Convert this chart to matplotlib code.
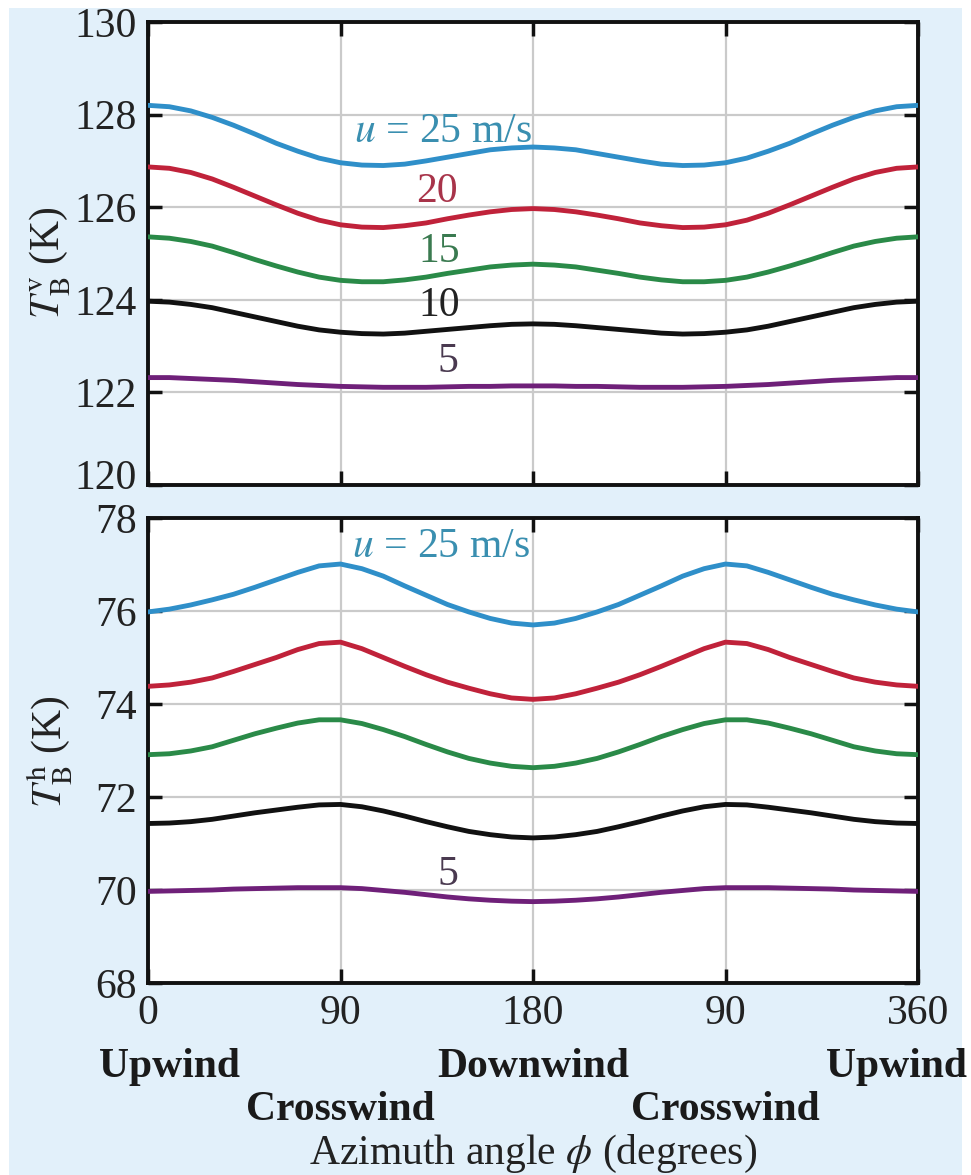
import matplotlib
matplotlib.use("Agg")
import matplotlib.pyplot as plt
import matplotlib.transforms as mtransforms
from matplotlib.patches import Rectangle

plt.rcParams["font.family"] = ["Liberation Serif", "DejaVu Serif"]
plt.rcParams["mathtext.fontset"] = "stix"

# Azimuth angle samples (degrees)
phi = list(range(0, 361, 10))

# Vertically polarised brightness temperature (K) per wind speed
tbv_25 = [128.20, 128.17, 128.08, 127.94, 127.77, 127.58, 127.38, 127.21, 127.06, 126.96,
          126.91, 126.90, 126.93, 127.00, 127.08, 127.16, 127.24, 127.28, 127.30,
          127.28, 127.24, 127.16, 127.08, 127.00, 126.93, 126.90, 126.91, 126.96,
          127.06, 127.21, 127.38, 127.58, 127.77, 127.94, 128.08, 128.17, 128.20]
tbv_20 = [126.87, 126.84, 126.75, 126.61, 126.43, 126.24, 126.05, 125.87, 125.72, 125.62,
          125.57, 125.56, 125.60, 125.66, 125.75, 125.83, 125.90, 125.95, 125.97,
          125.95, 125.90, 125.83, 125.75, 125.66, 125.60, 125.56, 125.57, 125.62,
          125.72, 125.87, 126.05, 126.24, 126.43, 126.61, 126.75, 126.84, 126.87]
tbv_15 = [125.36, 125.33, 125.26, 125.16, 125.02, 124.87, 124.73, 124.60, 124.49, 124.42,
          124.39, 124.39, 124.43, 124.49, 124.57, 124.64, 124.71, 124.75, 124.77,
          124.75, 124.71, 124.64, 124.57, 124.49, 124.43, 124.39, 124.39, 124.42,
          124.49, 124.60, 124.73, 124.87, 125.02, 125.16, 125.26, 125.33, 125.36]
tbv_10 = [123.97, 123.95, 123.90, 123.83, 123.73, 123.63, 123.53, 123.43, 123.35, 123.30,
          123.27, 123.26, 123.28, 123.32, 123.36, 123.40, 123.44, 123.47, 123.48,
          123.47, 123.44, 123.40, 123.36, 123.32, 123.28, 123.26, 123.27, 123.30,
          123.35, 123.43, 123.53, 123.63, 123.73, 123.83, 123.90, 123.95, 123.97]
tbv_5 = [122.32, 122.32, 122.30, 122.28, 122.26, 122.23, 122.20, 122.17, 122.15, 122.13,
         122.12, 122.11, 122.11, 122.11, 122.12, 122.13, 122.13, 122.14, 122.14,
         122.14, 122.13, 122.13, 122.12, 122.11, 122.11, 122.11, 122.12, 122.13,
         122.15, 122.17, 122.20, 122.23, 122.26, 122.28, 122.30, 122.32, 122.32]

# Horizontally polarised brightness temperature (K) per wind speed
tbh_25 = [75.98, 76.04, 76.13, 76.24, 76.36, 76.51, 76.67, 76.83, 76.97, 77.01,
          76.91, 76.75, 76.54, 76.34, 76.14, 75.98, 75.84, 75.74, 75.70,
          75.74, 75.84, 75.98, 76.14, 76.34, 76.54, 76.75, 76.91, 77.01,
          76.97, 76.83, 76.67, 76.51, 76.36, 76.24, 76.13, 76.04, 75.98]
tbh_20 = [74.38, 74.41, 74.47, 74.56, 74.70, 74.85, 75.00, 75.17, 75.30, 75.33,
          75.19, 75.00, 74.81, 74.63, 74.47, 74.34, 74.22, 74.13, 74.10,
          74.13, 74.22, 74.34, 74.47, 74.63, 74.81, 75.00, 75.19, 75.33,
          75.30, 75.17, 75.00, 74.85, 74.70, 74.56, 74.47, 74.41, 74.38]
tbh_15 = [72.91, 72.93, 72.99, 73.08, 73.22, 73.36, 73.48, 73.59, 73.66, 73.66,
          73.58, 73.45, 73.30, 73.13, 72.97, 72.83, 72.73, 72.66, 72.63,
          72.66, 72.73, 72.83, 72.97, 73.13, 73.30, 73.45, 73.58, 73.66,
          73.66, 73.59, 73.48, 73.36, 73.22, 73.08, 72.99, 72.93, 72.91]
tbh_10 = [71.43, 71.44, 71.47, 71.52, 71.59, 71.66, 71.72, 71.78, 71.83, 71.84,
          71.79, 71.70, 71.59, 71.47, 71.36, 71.26, 71.19, 71.14, 71.12,
          71.14, 71.19, 71.26, 71.36, 71.47, 71.59, 71.70, 71.79, 71.84,
          71.83, 71.78, 71.72, 71.66, 71.59, 71.52, 71.47, 71.44, 71.43]
tbh_5 = [69.97, 69.98, 69.99, 70.00, 70.02, 70.03, 70.04, 70.05, 70.05, 70.05,
         70.03, 69.99, 69.95, 69.90, 69.85, 69.81, 69.78, 69.76, 69.75,
         69.76, 69.78, 69.81, 69.85, 69.90, 69.95, 69.99, 70.03, 70.05,
         70.05, 70.05, 70.04, 70.03, 70.02, 70.00, 69.99, 69.98, 69.97]

x_ticks = [0, 90, 180, 270, 360]
x_tick_labels = ["0", "90", "180", "90", "360"]
direction_row1 = [(10, "Upwind"), (180, "Downwind"), (350, "Upwind")]
direction_row2 = [(90, "Crosswind"), (270, "Crosswind")]

colors = {25: "#2f8fc9", 20: "#c0223a", 15: "#2a8a48", 10: "#111111", 5: "#6f2079"}
label_colors = {25: "#3a8fb0", 20: "#a8344a", 15: "#3a7a50", 10: "#222222", 5: "#4a3a50"}

W, H = 971, 1175
fig = plt.figure(figsize=(W / 100, H / 100), dpi=100, facecolor="white")
fig.patches.append(Rectangle((9 / W, 0), (962 - 9) / W, 1 - 8 / H,
                             transform=fig.transFigure, facecolor="#e2f0fa",
                             edgecolor="none", zorder=-10))

ax1 = fig.add_axes([148 / W, 1 - 485 / H, 770 / W, 463 / H])
ax2 = fig.add_axes([148 / W, 1 - 983 / H, 770 / W, 465 / H])

for ax in (ax1, ax2):
    ax.set_facecolor("white")
    ax.set_xlim(0, 360)
    ax.set_xticks(x_ticks)
    ax.grid(True, color="#cacaca", lw=1.6)
    ax.set_axisbelow(True)
    ax.tick_params(direction="in", length=10, width=2.5, top=True, right=True,
                   labelsize=30, pad=8, color="#111111", labelcolor="#222222")
    for s in ax.spines.values():
        s.set_linewidth(2.8)
        s.set_color("#111111")

# Upper panel: vertical polarisation
ax1.set_ylim(120, 130)
ax1.set_yticks([120, 122, 124, 126, 128, 130])
ax1.set_xticklabels([])
for spd, vals in [(25, tbv_25), (20, tbv_20), (15, tbv_15), (10, tbv_10), (5, tbv_5)]:
    ax1.plot(phi, vals, color=colors[spd], lw=3.5, solid_joinstyle="round", zorder=3)

ax1.text(138, 127.62, r"$u$ = 25 m/s", color=label_colors[25], fontsize=30,
         ha="center", va="center", zorder=4)
ax1.text(135, 126.33, "20", color=label_colors[20], fontsize=30, ha="center", va="center")
ax1.text(136, 125.03, "15", color=label_colors[15], fontsize=30, ha="center", va="center")
ax1.text(136, 123.87, "10", color=label_colors[10], fontsize=30, ha="center", va="center")
ax1.text(140, 122.66, "5", color=label_colors[5], fontsize=30, ha="center", va="center")

# Lower panel: horizontal polarisation
ax2.set_ylim(68, 78)
ax2.set_yticks([68, 70, 72, 74, 76, 78])
ax2.set_xticklabels(x_tick_labels)
for spd, vals in [(25, tbh_25), (20, tbh_20), (15, tbh_15), (10, tbh_10), (5, tbh_5)]:
    ax2.plot(phi, vals, color=colors[spd], lw=3.5, solid_joinstyle="round", zorder=3)

ax2.text(137, 77.38, r"$u$ = 25 m/s", color=label_colors[25], fontsize=30,
         ha="center", va="center", zorder=4)
ax2.text(140, 70.32, "5", color=label_colors[5], fontsize=30, ha="center", va="center")

# Lift the bottom label of the upper panel so it clears the top label of the lower one
fig.canvas.draw()
lift = mtransforms.ScaledTranslation(0, 8 / 72, fig.dpi_scale_trans)
lab120 = ax1.yaxis.get_major_ticks()[0].label1
lab120.set_transform(lab120.get_transform() + lift)

# Axis labels
fig.text(50 / W, 1 - 263 / H, r"$T_{\mathrm{B}}^{\mathrm{v}}$ (K)", rotation=90,
         fontsize=30, ha="center", va="center", color="#222222")
fig.text(50 / W, 1 - 752 / H, r"$T_{\mathrm{B}}^{\mathrm{h}}$ (K)", rotation=90,
         fontsize=30, ha="center", va="center", color="#222222")

trans = mtransforms.blended_transform_factory(ax2.transData, fig.transFigure)
for xv, txt in direction_row1:
    ax2.text(xv, 1 - 1077 / H, txt, transform=trans, fontsize=30, fontweight="bold",
             ha="center", va="baseline", color="#1a1a1a")
for xv, txt in direction_row2:
    ax2.text(xv, 1 - 1120 / H, txt, transform=trans, fontsize=30, fontweight="bold",
             ha="center", va="baseline", color="#1a1a1a")
ax2.text(180, 1 - 1164 / H, r"Azimuth angle $\phi$ (degrees)", transform=trans,
         fontsize=30, ha="center", va="baseline", color="#222222")

fig.savefig("out.png", dpi=100, facecolor=fig.get_facecolor())
